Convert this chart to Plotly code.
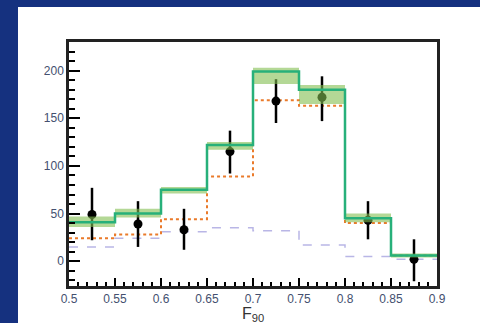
import plotly.graph_objects as go

# Binning in F90
bin_edges = [0.5, 0.55, 0.6, 0.65, 0.7, 0.75, 0.8, 0.85, 0.9]
bin_centers = [0.525, 0.575, 0.625, 0.675, 0.725, 0.775, 0.825, 0.875]

# Observed counts with asymmetric uncertainties
data_counts = [49, 39, 33, 115, 168, 172, 43, 2]
data_err_up = [28, 24, 22, 22, 23, 22, 20, 21]
data_err_down = [27, 24, 21, 23, 23, 25, 20, 23]

# Total prediction and its uncertainty band
total_pred = [41, 50, 75, 122, 199, 180, 45, 6]
band_low = [36, 46, 71, 117, 186, 165, 41, 4]
band_high = [47, 55, 78, 125, 203, 185, 50, 8]

# Components
signal_pred = [24, 28, 44, 89, 169, 163, 40, 6]
background_pred = [15, 24, 31, 35, 32, 17, 5, 2]


def step(vals):
    return vals + [vals[-1]]


fig = go.Figure()

fig.add_trace(go.Scatter(
    x=bin_edges, y=step(background_pred), mode="lines", line_shape="hv",
    line=dict(color="#b9b6e6", width=1.5, dash="dash"), showlegend=False))

fig.add_trace(go.Scatter(
    x=bin_edges, y=step(signal_pred), mode="lines", line_shape="hv",
    line=dict(color="#ea7a2a", width=2, dash="dot"), showlegend=False))

fig.add_trace(go.Scatter(
    x=bin_centers, y=data_counts, mode="markers",
    marker=dict(color="black", size=9),
    error_y=dict(type="data", array=data_err_up, arrayminus=data_err_down,
                 color="black", thickness=2.5, width=0),
    showlegend=False))

fig.add_trace(go.Scatter(
    x=bin_edges, y=step(band_low), mode="lines", line_shape="hv",
    line=dict(width=0), showlegend=False, hoverinfo="skip"))
fig.add_trace(go.Scatter(
    x=bin_edges, y=step(band_high), mode="lines", line_shape="hv",
    line=dict(width=0), fill="tonexty", fillcolor="rgba(130,190,80,0.6)",
    showlegend=False, hoverinfo="skip"))

fig.add_trace(go.Scatter(
    x=bin_edges, y=step(total_pred), mode="lines", line_shape="hv",
    line=dict(color="#27b07a", width=2.5), showlegend=False))

tick_font = dict(family="Liberation Sans, Arial, sans-serif", size=12, color="#44506f")

fig.update_xaxes(
    range=[0.5, 0.9], tickvals=[0.5, 0.55, 0.6, 0.65, 0.7, 0.75, 0.8, 0.85, 0.9],
    ticktext=["0.5", "0.55", "0.6", "0.65", "0.7", "0.75", "0.8", "0.85", "0.9"],
    ticks="inside", ticklen=8, tickwidth=2, tickcolor="black",
    minor=dict(ticks="inside", ticklen=4, tickwidth=1.5, tickcolor="black", dtick=0.01),
    showline=True, linewidth=2.5, linecolor="#222", mirror=True,
    showgrid=False, zeroline=False, tickfont=tick_font)

fig.update_yaxes(
    range=[-26, 230], tickvals=[0, 50, 100, 150, 200],
    ticks="inside", ticklen=11, tickwidth=2, tickcolor="black",
    minor=dict(ticks="inside", ticklen=6, tickwidth=2, tickcolor="black", dtick=10),
    showline=True, linewidth=2.5, linecolor="#222", mirror=True,
    showgrid=False, zeroline=False, tickfont=tick_font, ticklabelstandoff=0)

fig.add_annotation(
    x=0.7, xref="x", y=-0.115, yref="paper", showarrow=False,
    text="F<sub>90</sub>", xanchor="center", yanchor="middle",
    font=dict(family="Liberation Sans, Arial, sans-serif", size=16, color="#333"))

# White slide panel on the blue backdrop
fig.add_shape(type="rect", xref="paper", yref="paper",
              x0=-0.1386, x1=1.12, y0=-0.16, y1=1.1434,
              fillcolor="white", line=dict(width=0), layer="below")

fig.update_layout(
    width=480, height=323,
    margin=dict(l=69, r=43, t=42, b=37),
    paper_bgcolor="#15317f", plot_bgcolor="white",
    showlegend=False)

fig.write_html("out.html")
